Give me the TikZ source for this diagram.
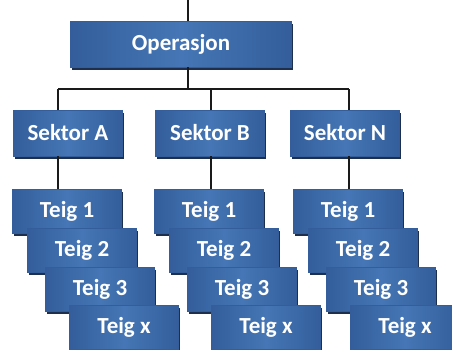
\documentclass[tikz,border=0pt]{standalone}
\usepackage{fontspec}
\setmainfont{Carlito}
\usepackage{tikz}
\usetikzlibrary{shadows,calc}
\usepackage{xcolor}
\definecolor{boxedge}{HTML}{335E9B}
\definecolor{boxmid}{HTML}{4676B5}
\definecolor{boxshade}{HTML}{1E2F4D}
\definecolor{wire}{HTML}{1A1A1A}

\begin{document}
\begin{tikzpicture}[x=1pt, y=-1pt,
    box/.style={rectangle, draw=boxedge, line width=0.6pt,
        left color=boxedge, right color=boxedge, middle color=boxmid,
        drop shadow={shadow xshift=1.5pt, shadow yshift=-3pt, fill=boxshade, opacity=1},
        text=white, font=\bfseries\fontsize{23}{23}\selectfont,
        minimum height=46pt, inner sep=0pt},
    wide/.style={box, minimum width=221pt},
    sektor/.style={box, minimum width=109pt},
    teig/.style={box, minimum width=109pt, minimum height=44pt},
    link/.style={draw=wire, line width=1.8pt}]
            \useasboundingbox[fill=white] (0,0) rectangle (452,349);

            \node[wide] (op) at (181,44) {Operasjon};

            \node[sektor] (sA) at (68,133) {Sektor A};
            \node[sektor] (sB) at (210,133) {Sektor B};
            \node[sektor] (sN) at (345,133) {Sektor N};

            \node[teig] (tA1) at (67,211) {Teig 1};
            \node[teig] (tA2) at (82,250) {Teig 2};
            \node[teig] (tA3) at (100,289) {Teig 3};
            \node[teig] (tAx) at (124,327) {Teig x};

            \node[teig] (tB1) at (209,211) {Teig 1};
            \node[teig] (tB2) at (224,250) {Teig 2};
            \node[teig] (tB3) at (242,289) {Teig 3};
            \node[teig] (tBx) at (266,327) {Teig x};

            \node[teig] (tN1) at (348,211) {Teig 1};
            \node[teig] (tN2) at (363,250) {Teig 2};
            \node[teig] (tN3) at (381,289) {Teig 3};
            \node[teig] (tNx) at (405,327) {Teig x};

            % connectors
            \coordinate (top) at (188,0);
            \coordinate (jOp) at (188,89);
            \coordinate (jA) at (58,89);
            \coordinate (jB) at (211,89);
            \coordinate (jN) at (349,89);
            \draw[link] (top) -- (top |- op.north);
            \draw[link] (jOp |- op.south) -- (jOp);
            \draw[link] (jA) -- (jN);
            \draw[link] (jA) -- (jA |- sA.north);
            \draw[link] (jB) -- (jB |- sB.north);
            \draw[link] (jN) -- (jN |- sN.north);
            \draw[link] (jA |- sA.south) -- (jA |- tA1.north);
            \draw[link] (jB |- sB.south) -- (jB |- tB1.north);
            \draw[link] (jN |- sN.south) -- (jN |- tN1.north);
        \end{tikzpicture}
\end{document}
